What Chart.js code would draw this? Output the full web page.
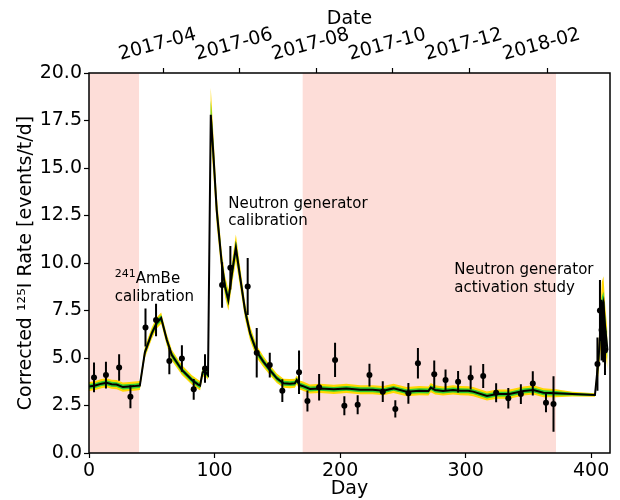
<!DOCTYPE html>
<html lang="en">
<head>
<meta charset="UTF-8">
<title>Corrected 125I Rate</title>
<script src="https://cdn.jsdelivr.net/npm/chart.js"></script>
<style>
  body { margin: 0; background: #fff; }
  .wrap { width: 620px; height: 500px; }
</style>
</head>
<body>
<div class="wrap"><canvas id="rateChart"></canvas></div>
<script>
// measured rates (day, rate, 1 sigma error)
const dataDays  = [4, 13.5, 24, 33, 45, 53.4, 64, 74, 83.4, 92.4, 106, 112.6, 126.4, 133.6, 144, 154,
                   167.3, 174, 183.3, 196, 203.4, 214, 223.4, 234, 244, 254.4, 262, 275, 284, 294, 304,
                   314, 324.3, 334, 344, 353.5, 364, 370, 405, 407, 408.3, 409.7, 411];
const dataRates = [3.98, 4.1, 4.5, 2.96, 6.6, 7.0, 4.84, 4.97, 3.35, 4.45, 8.84, 9.75, 8.76, 5.28, 4.63, 3.28,
                   4.25, 2.74, 3.46, 4.9, 2.49, 2.54, 4.1, 3.23, 2.32, 3.14, 4.72, 4.14, 3.84, 3.75, 3.97,
                   4.05, 3.17, 2.88, 3.1, 3.66, 2.65, 2.58, 4.68, 7.5, 6.47, 6.38, 5.4];
const dataErrs  = [0.78, 0.7, 0.7, 0.6, 1.0, 0.85, 0.7, 0.7, 0.55, 0.75, 1.2, 1.15, 1.5, 1.3, 0.65, 0.6,
                   1.15, 0.55, 0.7, 0.9, 0.5, 0.5, 0.6, 0.55, 0.45, 0.55, 0.8, 0.73, 0.56, 0.57, 0.63,
                   0.63, 0.5, 0.54, 0.52, 0.64, 0.5, 1.46, 1.4, 1.6, 1.6, 1.6, 1.3];

// model curve with 1 sigma / 2 sigma half widths
const modelDays  = [0, 5, 10, 14, 18, 22, 27, 32, 36, 40.5, 44.5, 50, 54, 57.5, 62, 66, 74, 82, 87, 88.5,
                    90.5, 92.5, 94.8, 97, 99, 101.7, 105.7, 108.4, 111, 114.2, 117, 120.3, 124.3, 128.3, 133.6, 139, 144, 149.6, 155, 160,
                    164, 165.5, 167.6, 170, 176, 184, 195, 205, 216, 226, 234.5, 242.5, 253, 263, 270.4, 272.2, 275.7, 282, 290, 296,
                    302, 306, 317, 325, 335, 346, 354, 362, 372, 385, 403, 405.8, 408.5, 409.8, 411.1, 413];
const modelRates = [3.5, 3.55, 3.65, 3.7, 3.62, 3.6, 3.47, 3.5, 3.52, 3.55, 5.3, 6.3, 6.85, 7.1, 5.95, 5.15, 4.37, 3.84, 3.6, 3.55,
                    4.25, 4.3, 4.1, 17.8, 15.8, 12.8, 10.0, 8.75, 8.05, 9.6, 10.8, 9.3, 7.5, 6.3, 5.33, 4.8, 4.37, 3.93, 3.67, 3.65,
                    3.67, 3.84, 3.58, 3.53, 3.37, 3.4, 3.35, 3.4, 3.33, 3.33, 3.28, 3.4, 3.23, 3.28, 3.26, 3.44, 3.32, 3.26, 3.32, 3.28,
                    3.27, 3.23, 3.0, 3.1, 3.1, 3.26, 3.32, 3.17, 3.14, 3.1, 3.05, 4.9, 7.5, 7.9, 6.65, 5.4];
const modelErr1  = [0.13, 0.13, 0.13, 0.13, 0.13, 0.13, 0.13, 0.13, 0.13, 0.13, 0.16, 0.16, 0.16, 0.16, 0.16, 0.16, 0.14, 0.14, 0.14, 0.14,
                    0.14, 0.14, 0.14, 0.75, 0.6, 0.45, 0.35, 0.3, 0.3, 0.35, 0.38, 0.3, 0.25, 0.2, 0.18, 0.16, 0.15, 0.14, 0.13, 0.13,
                    0.13, 0.13, 0.13, 0.13, 0.13, 0.13, 0.13, 0.13, 0.13, 0.13, 0.13, 0.13, 0.13, 0.13, 0.13, 0.13, 0.13, 0.13, 0.13, 0.13,
                    0.13, 0.13, 0.13, 0.13, 0.13, 0.13, 0.13, 0.13, 0.12, 0.07, 0.05, 0.4, 0.7, 0.6, 0.6, 0.5];
const modelErr2  = [0.24, 0.24, 0.24, 0.24, 0.24, 0.24, 0.24, 0.24, 0.24, 0.24, 0.3, 0.3, 0.3, 0.3, 0.3, 0.29, 0.26, 0.25, 0.25, 0.25,
                    0.25, 0.25, 0.25, 1.42, 1.1, 0.8, 0.62, 0.55, 0.55, 0.62, 0.7, 0.55, 0.45, 0.38, 0.33, 0.29, 0.27, 0.25, 0.24, 0.24,
                    0.24, 0.24, 0.24, 0.24, 0.24, 0.24, 0.24, 0.24, 0.24, 0.24, 0.24, 0.24, 0.24, 0.24, 0.24, 0.24, 0.24, 0.24, 0.24, 0.24,
                    0.24, 0.24, 0.24, 0.24, 0.24, 0.24, 0.24, 0.24, 0.21, 0.13, 0.09, 0.8, 1.5, 1.4, 1.2, 1.0];

// shaded periods (days)
const shadedRanges = [[0, 40], [170, 372]];

// top axis: months
const dateTickDays   = [59, 120, 181, 242, 303, 365];
const dateTickLabels = ['2017-04', '2017-06', '2017-08', '2017-10', '2017-12', '2018-02'];

const annotations = [
  {day: 20.5, rate: 8.93, sup: '241', lines: ['AmBe', 'calibration']},
  {day: 111, rate: 12.91, lines: ['Neutron generator', 'calibration']},
  {day: 291, rate: 9.41, lines: ['Neutron generator', 'activation study']}
];

Chart.defaults.font.family = 'DejaVu Sans';
Chart.defaults.color = '#000';

const band = (errs, sign) => modelDays.map((d, i) => ({x: d, y: modelRates[i] + sign * errs[i]}));

const errBars = [];
dataDays.forEach((d, i) => {
  errBars.push({x: d, y: dataRates[i] - dataErrs[i]}, {x: d, y: dataRates[i] + dataErrs[i]}, {x: d, y: null});
});

const lineDefaults = {type: 'line', pointRadius: 0, tension: 0, borderWidth: 0};

const datasets = [
  {...lineDefaults, label: 'errors', data: errBars, borderColor: '#000', borderWidth: 2, spanGaps: false, order: 0},
  {...lineDefaults, label: 'data', data: dataDays.map((d, i) => ({x: d, y: dataRates[i]})), showLine: false,
    pointRadius: 3, pointBackgroundColor: '#000', pointBorderWidth: 0, order: 0},
  {...lineDefaults, label: 'model', data: modelDays.map((d, i) => ({x: d, y: modelRates[i]})), borderColor: '#000', borderWidth: 2, order: 1},
  {...lineDefaults, label: '1s hi', data: band(modelErr1, 1), fill: '+1', backgroundColor: '#32cd32', order: 2},
  {...lineDefaults, label: '1s lo', data: band(modelErr1, -1), order: 3},
  {...lineDefaults, label: '2s hi', data: band(modelErr2, 1), fill: '+1', backgroundColor: '#ffd700', order: 4},
  {...lineDefaults, label: '2s lo', data: band(modelErr2, -1), order: 5}
];
shadedRanges.forEach(([a, b], i) => {
  datasets.push({...lineDefaults, label: 'shade' + i, data: [{x: a, y: 20}, {x: b, y: 20}],
    fill: 'origin', backgroundColor: '#fdddd8', order: 10});
});

const framePlugin = {
  id: 'frame',
  afterDatasetsDraw(chart) {
    const {ctx, chartArea: a} = chart;
    ctx.save();
    ctx.strokeStyle = '#000';
    ctx.lineWidth = 1.5;
    ctx.strokeRect(a.left, a.top, a.right - a.left, a.bottom - a.top);
    ctx.restore();
  }
};

const labelPlugin = {
  id: 'labels',
  afterDatasetsDraw(chart) {
    const {ctx, scales} = chart;
    ctx.save();
    ctx.fillStyle = '#000';
    ctx.textBaseline = 'alphabetic';
    ctx.textAlign = 'left';
    annotations.forEach(a => {
      const x = scales.x.getPixelForValue(a.day);
      const y = scales.y.getPixelForValue(a.rate);
      a.lines.forEach((txt, k) => {
        let lx = x;
        if (k === 0 && a.sup) {
          ctx.font = '11px "DejaVu Sans"';
          ctx.fillText(a.sup, lx, y - 6);
          lx += ctx.measureText(a.sup).width;
        }
        ctx.font = '15px "DejaVu Sans"';
        ctx.fillText(txt, lx, y + k * 17.5);
      });
    });
    ctx.restore();
  }
};

const tickGrid = {drawOnChartArea: false, tickLength: 5, tickColor: '#000', tickWidth: 1.2};
const axisFont = {size: 19};
const fitX = h => s => { s.height = h; s.paddingLeft = 0; s.paddingRight = 0; };

new Chart(document.getElementById('rateChart'), {
  type: 'line',
  data: {datasets},
  options: {
    responsive: true,
    maintainAspectRatio: false,
    animation: false,
    layout: {padding: {left: 0, right: 10, top: 0, bottom: 0}},
    plugins: {legend: {display: false}, tooltip: {enabled: false}},
    scales: {
      x: {
        type: 'linear', position: 'bottom', min: 0, max: 415,
        afterFit: fitX(47),
        border: {display: false},
        grid: tickGrid,
        ticks: {stepSize: 100, includeBounds: false, maxRotation: 0, font: axisFont, padding: 2},
        title: {display: true, text: 'Day', font: axisFont, padding: {top: 0, bottom: 0}}
      },
      x2: {
        type: 'linear', position: 'top', min: 0, max: 415,
        afterBuildTicks: s => { s.ticks = dateTickDays.map(v => ({value: v})); },
        afterFit: fitX(73),
        border: {display: false},
        grid: tickGrid,
        ticks: {callback: (v, i) => dateTickLabels[i], minRotation: 15, maxRotation: 15,
          labelOffset: -38, autoSkip: false, font: axisFont, padding: 2},
        title: {display: true, text: 'Date', font: axisFont, padding: {top: 8, bottom: 0}}
      },
      y: {
        type: 'linear', min: 0, max: 20,
        afterFit: s => { s.width = 89; s.paddingTop = 0; s.paddingBottom = 0; },
        border: {display: false},
        grid: tickGrid,
        ticks: {stepSize: 2.5, callback: v => v.toFixed(1), font: axisFont, padding: 2},
        title: {display: true, text: 'Corrected ¹²⁵I Rate [events/t/d]', font: axisFont, padding: {top: 15, bottom: 0}}
      }
    }
  },
  plugins: [framePlugin, labelPlugin]
});
</script>
</body>
</html>
